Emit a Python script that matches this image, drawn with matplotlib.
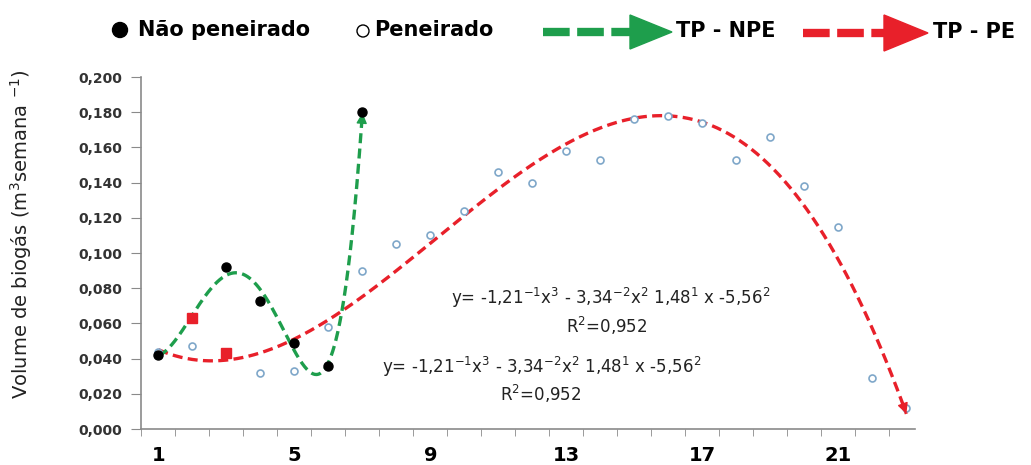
import numpy as np
import matplotlib
matplotlib.use('Agg')
import matplotlib.pyplot as plt
from matplotlib.patches import Polygon, Circle
from matplotlib.lines import Line2D

# semanas
semanas_np = [1, 2, 3, 4, 5, 6, 7]
semanas_pe = list(range(1, 24))

# volume de biogas (m3/semana)
nao_peneirado = [0.042, 0.063, 0.092, 0.073, 0.049, 0.036, 0.180]
peneirado = [0.044, 0.047, 0.043, 0.032, 0.033, 0.058, 0.090, 0.105, 0.110,
             0.124, 0.146, 0.140, 0.158, 0.153, 0.176, 0.178, 0.174, 0.153,
             0.166, 0.138, 0.115, 0.029, 0.012]
destaque_x = [2, 3]
destaque_y = [0.063, 0.043]

xtick_labels = ['1', '5', '9', '13', '17', '21']
eq_text = r'y= -1,21$^{-1}$x$^{3}$ - 3,34$^{-2}$x$^{2}$ 1,48$^{1}$ x -5,56$^{2}$'
r2_text = r'R$^{2}$=0,952'

GREEN = '#1e9e4c'
RED = '#e8202a'

fig = plt.figure(figsize=(10.31, 4.65), dpi=100)
ax = fig.add_axes([0.1372, 0.0774, 0.7502, 0.757])

# trend lines (polynomial fits)
xg = np.linspace(1, 7, 400)
pg = np.polyfit(semanas_np, nao_peneirado, 5)
yg = np.polyval(pg, xg)
xr = np.linspace(1, 23, 400)
pr = np.polyfit(semanas_pe, peneirado, 3)
yr = np.polyval(pr, xr)

ax.plot(xr, yr, color=RED, lw=2.4, ls=(0, (3, 1.6)), zorder=3)
ax.annotate('', xy=(xr[-1], yr[-1]), xytext=(xr[-2], yr[-2]),
            arrowprops=dict(arrowstyle='-|>', color=RED, lw=1,
                            mutation_scale=16, shrinkA=0, shrinkB=0), zorder=8)
ax.plot(xg, yg, color=GREEN, lw=2.4, ls=(0, (3, 1.6)), zorder=3)
ax.annotate('', xy=(xg[-1], yg[-1]), xytext=(xg[-2], yg[-2]),
            arrowprops=dict(arrowstyle='-|>', color=GREEN, lw=1,
                            mutation_scale=16, shrinkA=0, shrinkB=0), zorder=4)

# points
ax.plot(semanas_pe, peneirado, ls='none', marker='o', ms=5, mfc='white',
        mec='#7fa7c9', mew=1.2, zorder=5)
ax.plot(semanas_np, nao_peneirado, ls='none', marker='o', ms=6.5, color='black', zorder=6)
ax.plot(destaque_x, destaque_y, ls='none', marker='s', ms=6.5, color=RED, zorder=7)

# equations
ax.text(14.29, 0.0746, eq_text, ha='center', va='center', fontsize=12, color='#222222')
ax.text(14.2, 0.0588, r2_text, ha='center', va='center', fontsize=12, color='#222222')
ax.text(12.26, 0.035, eq_text, ha='center', va='center', fontsize=12, color='#222222')
ax.text(12.24, 0.0198, r2_text, ha='center', va='center', fontsize=12, color='#222222')

# axes style
ax.set_xlim(0.5, 23.25)
ax.set_ylim(0, 0.2)
for s in ['top', 'right']:
    ax.spines[s].set_visible(False)
for s in ['left', 'bottom']:
    ax.spines[s].set_color('#8a8a8a')
    ax.spines[s].set_linewidth(1.2)

ax.set_yticks(np.arange(0, 0.201, 0.02))
ax.set_yticklabels([f'{v:.3f}'.replace('.', ',') for v in np.arange(0, 0.201, 0.02)],
                   fontsize=10, fontweight='bold', color='#333333')
ax.tick_params(axis='y', direction='out', length=7, color='#8a8a8a', pad=7)

ax.set_xticks([1, 5, 9, 13, 17, 21])
ax.set_xticklabels(xtick_labels, fontsize=14, fontweight='bold')
ax.set_xticks(np.arange(0.5, 23.0, 1), minor=True)
ax.tick_params(axis='x', which='major', length=0, pad=12)
ax.tick_params(axis='x', which='minor', direction='out', length=5, color='#8a8a8a')

fig.text(21 / 1031, 0.497, r'Volume de biogás (m$^{3}$semana $^{-1}$)', rotation=90,
         ha='center', va='center', fontsize=14, color='#222222')

# legend drawn in pixel coords
lg = fig.add_axes([0, 0, 1, 1], facecolor='none')
lg.set_xlim(0, 1031)
lg.set_ylim(465, 0)
lg.axis('off')
lg.add_patch(Circle((120, 30), 7.5, color='black'))
lg.text(138, 30, 'Não peneirado', fontsize=15, fontweight='bold', va='center')
lg.add_patch(Circle((363, 31), 6, facecolor='white', edgecolor='black', lw=1))
lg.text(374, 30, 'Peneirado', fontsize=15, fontweight='bold', va='center')
lg.add_line(Line2D([543, 632], [32, 32], color=GREEN, lw=6, ls=(0, (3.2, 0.9))))
lg.add_patch(Polygon([[630, 15], [630, 49], [672, 32]], color=GREEN))
lg.text(676, 31, 'TP - NPE', fontsize=15, fontweight='bold', va='center')
lg.add_line(Line2D([803, 886], [33, 33], color=RED, lw=6, ls=(0, (3.2, 0.9))))
lg.add_patch(Polygon([[884, 15], [884, 51], [928, 33]], color=RED))
lg.text(933, 32, 'TP - PE', fontsize=15, fontweight='bold', va='center')

plt.savefig('out.png', dpi=100)
